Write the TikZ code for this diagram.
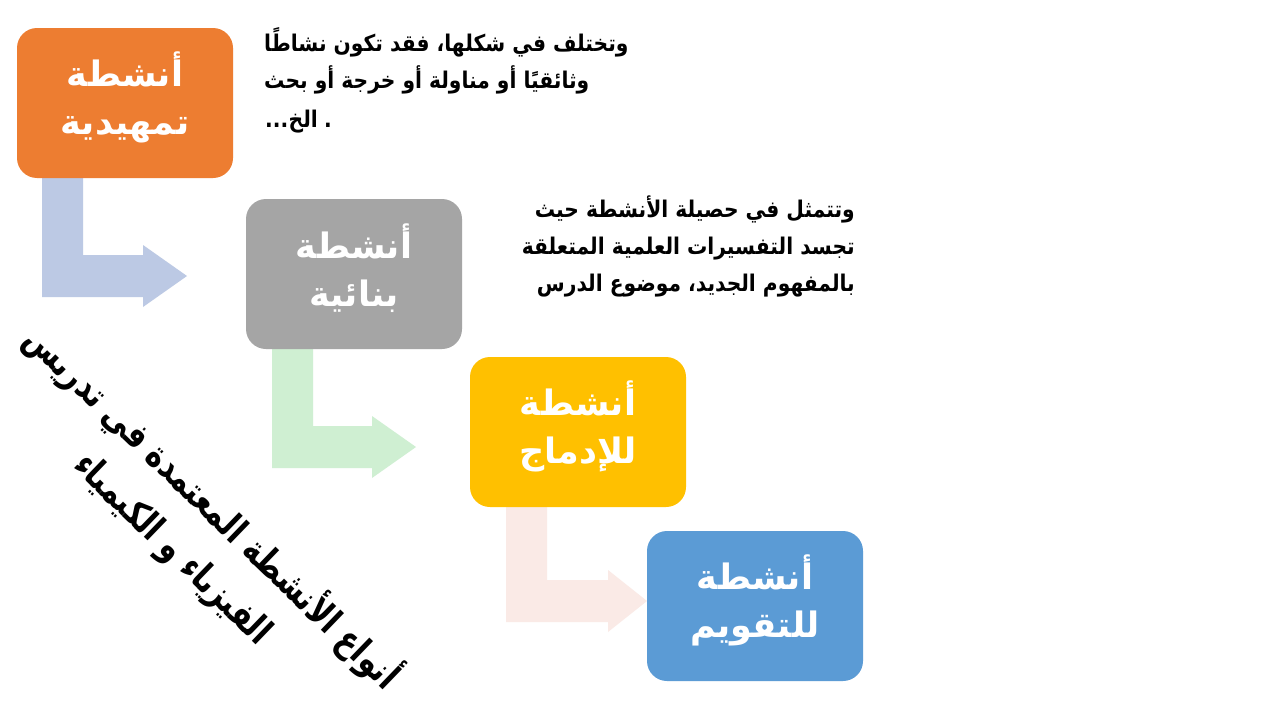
\documentclass[tikz,border=0pt]{standalone}
\usepackage{fontspec}
\usetikzlibrary{calc}
\TeXXeTstate=1
\newfontfamily\arabicfont[Script=Arabic]{DejaVu Sans}
\newfontfamily\arabiccond[Script=Arabic,FakeStretch=0.88]{DejaVu Sans}
\newfontfamily\arabictitle[Script=Arabic,FakeStretch=0.8]{DejaVu Sans}
\definecolor{cOrange}{HTML}{ED7D31}
\definecolor{cGray}{HTML}{A5A5A5}
\definecolor{cYellow}{HTML}{FFC000}
\definecolor{cBlue}{HTML}{5B9BD5}
\definecolor{aBlue}{HTML}{BCC9E4}
\definecolor{aGreen}{HTML}{CFEFD2}
\definecolor{aPink}{HTML}{FAEAE6}
\tikzset{
  stagebox/.style={rounded corners=20pt, minimum width=216pt, minimum height=150pt,
    inner sep=0pt},
  stagetext/.style={inner sep=0pt, align=center, text=white,
    font=\arabicfont\bfseries\fontsize{35}{48}\selectfont},
  desc/.style={inner sep=0pt, text=black, font=\arabiccond\bfseries\fontsize{23}{37}\selectfont},
  titletext/.style={inner sep=0pt, text=black, align=center, rotate=-44,
    font=\arabictitle\bfseries\fontsize{37}{56}\selectfont}
}
\newcommand\bentarrow[4]{% color, start (top-left of stem), tip, head length
  \fill[#1] let \p1=(#2), \p2=(#3) in
    (\x1,\y1) -- (\x1+41pt,\y1) -- (\x1+41pt,\y2+21pt) -- (\x2-#4pt,\y2+21pt)
    -- (\x2-#4pt,\y2+31pt) -- (\x2,\y2) -- (\x2-#4pt,\y2-31pt) -- (\x2-#4pt,\y2-21pt)
    -- (\x1,\y2-21pt) -- cycle;}
\begin{document}
\begin{tikzpicture}[x=1pt,y=-1pt]
\useasboundingbox[fill=white] (0,0) rectangle (1280,720);
% connector starts and tips
\coordinate (s1) at (42,170);
\coordinate (t1) at (187,276);
\coordinate (s2) at (272,340);
\coordinate (t2) at (416,447);
\coordinate (s3) at (506,500);
\coordinate (t3) at (647,601);
\bentarrow{aBlue}{s1}{t1}{44}
\bentarrow{aGreen}{s2}{t2}{44}
\bentarrow{aPink}{s3}{t3}{39}
% boxes
\node[stagebox, fill=cOrange] (b1) at (125,103) {};
\node[stagebox, fill=cGray] (b2) at (354,274) {};
\node[stagebox, fill=cYellow] (b3) at (578,432) {};
\node[stagebox, fill=cBlue] (b4) at (755,606) {};
\node[stagetext] (l1) at ($(b1)+(0,-6)$) {\beginR أنشطة\endR\\\beginR تمهيدية\endR};
\node[stagetext] (l2) at ($(b2)+(0,-6)$) {\beginR أنشطة\endR\\\beginR بنائية\endR};
\node[stagetext] (l3) at ($(b3)+(0,-6)$) {\beginR أنشطة\endR\\\beginR للإدماج\endR};
\node[stagetext] (l4) at ($(b4)+(0,-6)$) {\beginR أنشطة\endR\\\beginR للتقويم\endR};
% descriptions
\node[desc, anchor=north west, align=left] (d1) at (264,27)
  {\beginR وتختلف في شكلها، فقد تكون نشاطًا\endR\\
   \beginR وثائقيًا أو مناولة أو خرجة أو بحث\endR};
\node[desc, anchor=base west] (d1a) at (265,127) {...};
\node[desc, anchor=base west] (d1b) at (d1a.base east) {الخ};
\node[desc, anchor=base west] (d1c) at ($(d1b.base east)+(6,0)$) {.};
\node[desc, anchor=north east, align=right] (d2) at (855,196)
  {\beginR وتتمثل في حصيلة الأنشطة حيث\endR\\
   \beginR تجسد التفسيرات العلمية المتعلقة\endR\\
   \beginR بالمفهوم الجديد، موضوع الدرس\endR};
% rotated title
\node[titletext] (title) at (194,527)
  {\beginR أنواع الأنشطة المعتمدة في تدريس\endR\\\beginR الفيزياء و الكيمياء\endR};
\end{tikzpicture}
\end{document}
